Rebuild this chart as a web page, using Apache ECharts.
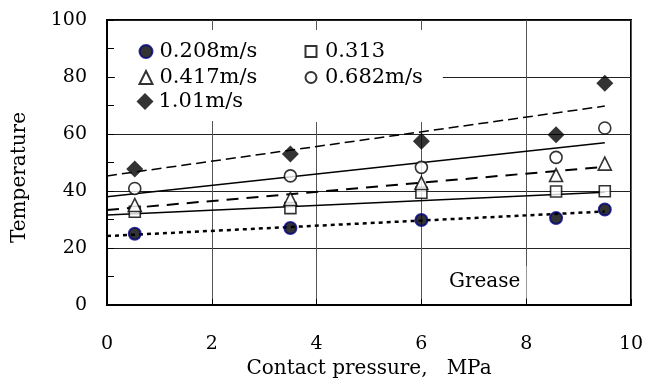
<!DOCTYPE html>
<html><head><meta charset="utf-8">
<script src="https://cdn.jsdelivr.net/npm/echarts@6/dist/echarts.min.js"></script>
<style>html,body{margin:0;padding:0;background:#fff}#c{width:656px;height:379px}</style>
</head><body><div id="c"></div>
<script>
// ---- data ----
const pressure = [0.53, 3.5, 6.0, 8.57, 9.5];
const seriesNames = ['0.208m/s', '0.313', '0.417m/s', '0.682m/s', '1.01m/s'];
const temp0208 = [25.0, 27.0, 29.8, 30.5, 33.5];
const temp0313 = [32.7, 34.0, 39.4, 39.8, 39.9];
const temp0417 = [35.1, 37.2, 42.8, 45.6, 49.6];
const temp0682 = [40.9, 45.3, 48.3, 51.8, 62.1];
const temp101  = [47.7, 53.0, 57.5, 59.7, 77.8];
// trend lines (start at x=0, end at x=9.5)
const trendX    = [0, 9.5];
const trend0208 = [24.2, 32.8];
const trend0313 = [31.6, 39.6];
const trend0417 = [33.3, 48.5];
const trend0682 = [38.0, 56.9];
const trend101  = [45.3, 69.8];
const xTicks = [0, 2, 4, 6, 8, 10];
const yTicks = [0, 20, 40, 60, 80, 100];
const annotation = 'Grease';
const xName = 'Contact pressure,   MPa';
const yName = 'Temperature';

const FONT = 'DejaVu Serif';
const pts = (ys) => pressure.map((x, i) => [x, ys[i]]);
const tr = (ys) => trendX.map((x, i) => [x, ys[i]]);

const chart = echarts.init(document.getElementById('c'), null, {renderer: 'canvas'});

function trendSeries(name, ys, width, type) {
  return {
    name: name, type: 'line', data: tr(ys), symbol: 'none', silent: true, z: 2,
    lineStyle: {color: '#000', width: width, type: type}
  };
}
function scatterSeries(name, ys, symbol, size, itemStyle) {
  return {name: name, type: 'scatter', data: pts(ys), symbol: symbol, symbolSize: size, itemStyle: itemStyle, z: 5};
}

const legendText = (padLeft) => ({fontFamily: FONT, fontSize: 21, color: '#000', lineHeight: 20, padding: [0, 0, 0, padLeft]});

chart.setOption({
  animation: false,
  backgroundColor: '#fff',
  grid: {left: 107, right: 25, top: 20, bottom: 74, containLabel: false, outerBoundsMode: 'none',
         show: true, borderColor: '#000', borderWidth: 2, backgroundColor: 'transparent'},
  title: {
    text: annotation, left: 422, top: 266, padding: [4, 6, 4, 27], backgroundColor: '#fff',
    textStyle: {fontFamily: FONT, fontSize: 20, fontWeight: 'normal', color: '#000', lineHeight: 24}
  },
  legend: [
    {data: [seriesNames[0], seriesNames[2]], orient: 'vertical', left: 115, top: 30, padding: [11, 60, 0, 23.5],
     itemGap: 5, itemWidth: 13, itemHeight: 13, backgroundColor: '#fff', textStyle: legendText(2), selectedMode: false},
    {data: [seriesNames[4]], orient: 'vertical', left: 115, top: 86, padding: [5, 60, 9, 21.5],
     itemGap: 5, itemWidth: 17, itemHeight: 17, backgroundColor: '#fff', textStyle: legendText(0), selectedMode: false},
    {data: [seriesNames[1], seriesNames[3]], orient: 'vertical', left: 295, top: 30, padding: [11, 20, 34, 9.5],
     itemGap: 5, itemWidth: 11, itemHeight: 11, backgroundColor: '#fff', textStyle: legendText(3.5), selectedMode: false}
  ],
  xAxis: {
    type: 'value', min: xTicks[0], max: xTicks[xTicks.length - 1], interval: xTicks[1] - xTicks[0],
    name: xName, nameLocation: 'middle', nameGap: 52,
    nameTextStyle: {fontFamily: FONT, fontSize: 20, color: '#000'},
    axisLine: {show: true, lineStyle: {color: '#000', width: 2}},
    axisTick: {show: true, inside: true, length: 6, lineStyle: {color: '#000', width: 1}},
    axisLabel: {margin: 30, fontFamily: FONT, fontSize: 19, color: '#000'},
    splitLine: {show: true, lineStyle: {color: '#555', width: 1}}
  },
  yAxis: {
    type: 'value', min: yTicks[0], max: yTicks[yTicks.length - 1], interval: yTicks[1] - yTicks[0],
    name: yName, nameLocation: 'middle', nameGap: 77,
    nameTextStyle: {fontFamily: FONT, fontSize: 20, color: '#000', padding: [0, 30, 0, 0]},
    axisLine: {show: true, lineStyle: {color: '#000', width: 2}},
    axisTick: {show: true, inside: true, length: 7, lineStyle: {color: '#000', width: 1}},
    minorTick: {show: true, splitNumber: 2, length: 7, lineStyle: {color: '#000', width: 1}},
    axisLabel: {margin: 20, fontFamily: FONT, fontSize: 19, color: '#000'},
    splitLine: {show: true, lineStyle: {color: '#222', width: 1}}
  },
  series: [
    trendSeries('t0208', trend0208, 2.5, [4, 4]),
    trendSeries('t0313', trend0313, 1.5, 'solid'),
    trendSeries('t0417', trend0417, 2, [12, 8]),
    trendSeries('t0682', trend0682, 1.5, 'solid'),
    trendSeries('t101', trend101, 1.5, [10, 5]),
    scatterSeries(seriesNames[0], temp0208, 'circle', 12, {color: '#000', borderColor: '#00007a', borderWidth: 2}),
    scatterSeries(seriesNames[1], temp0313, 'rect', 11, {color: '#fff', borderColor: '#000', borderWidth: 1.6}),
    scatterSeries(seriesNames[2], temp0417, 'triangle', 13, {color: '#fff', borderColor: '#000', borderWidth: 1.6}),
    scatterSeries(seriesNames[3], temp0682, 'circle', 12, {color: '#fff', borderColor: '#000', borderWidth: 1.6}),
    scatterSeries(seriesNames[4], temp101, 'diamond', 17, {color: '#000'})
  ]
});
</script></body></html>
